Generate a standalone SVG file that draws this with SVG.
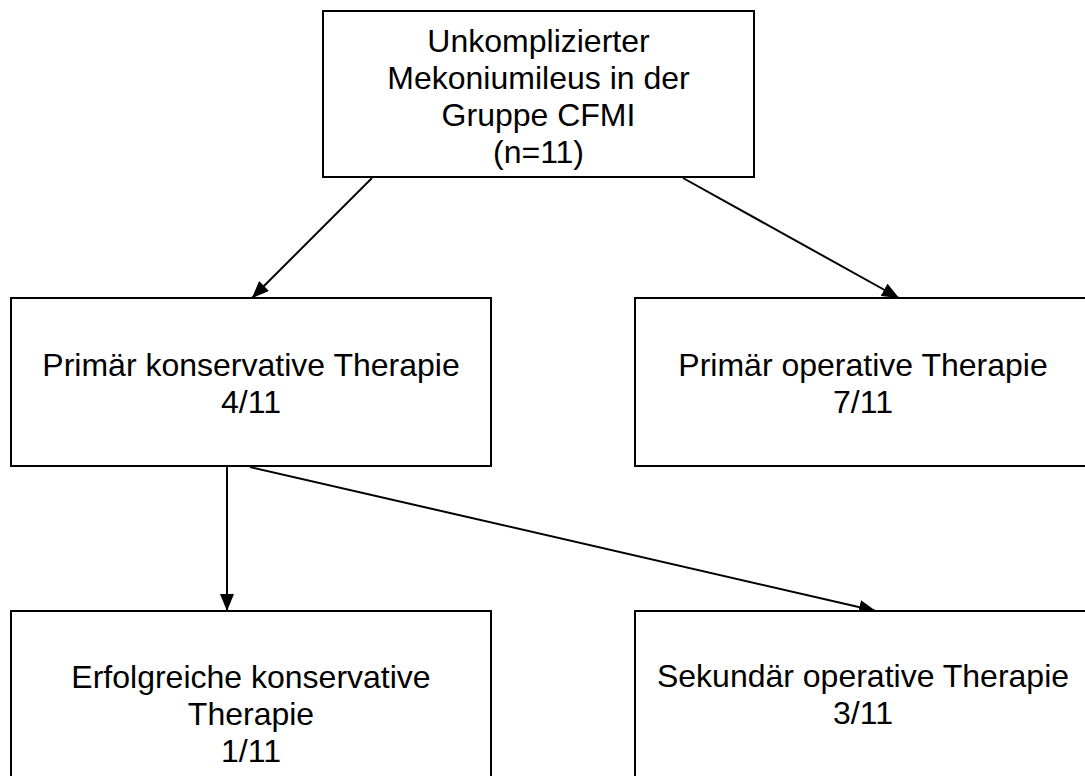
<svg xmlns="http://www.w3.org/2000/svg" width="1085" height="776" viewBox="0 0 1085 776">
<style>
.box{fill:#fff;stroke:#000;stroke-width:2}
.t{font-family:"Liberation Sans",Arial,sans-serif;font-size:32px;fill:#000;text-anchor:middle}
.c{stroke:#000;stroke-width:2;fill:none;marker-end:url(#ah)}
</style>
<defs>
<marker id="ah" viewBox="0 0 17 14" refX="17" refY="7" markerWidth="17" markerHeight="14" markerUnits="userSpaceOnUse" orient="auto">
<path d="M0,0 L17,7 L0,14 Z" fill="#000"/>
</marker>
</defs>
<rect width="1085" height="776" fill="#fff"/>
<g id="connectors">
<line class="c" x1="372" y1="178" x2="252" y2="298"/>
<line class="c" x1="683" y1="178" x2="899" y2="298"/>
<line class="c" x1="227" y1="467" x2="227" y2="611"/>
<line class="c" x1="250" y1="467" x2="876" y2="611"/>
</g>
<g id="n1">
<rect class="box" x="323" y="11" width="431" height="166"/>
<text class="t" x="538.5" y="52">Unkomplizierter</text>
<text class="t" x="538.5" y="89">Mekoniumileus in der</text>
<text class="t" x="538.5" y="126">Gruppe CFMI</text>
<text class="t" x="538.5" y="163">(n=11)</text>
</g>
<g id="n2">
<rect class="box" x="11" y="298" width="480" height="168"/>
<text class="t" x="251" y="376">Primär konservative Therapie</text>
<text class="t" x="251" y="413">4/11</text>
</g>
<g id="n3">
<rect class="box" x="635" y="298" width="456" height="168"/>
<text class="t" x="863" y="376">Primär operative Therapie</text>
<text class="t" x="863" y="413">7/11</text>
</g>
<g id="n4">
<rect class="box" x="11" y="611" width="480" height="180"/>
<text class="t" x="251" y="688">Erfolgreiche konservative</text>
<text class="t" x="251" y="725">Therapie</text>
<text class="t" x="251" y="762">1/11</text>
</g>
<g id="n5">
<rect class="box" x="635" y="611" width="456" height="180"/>
<text class="t" x="863" y="687">Sekundär operative Therapie</text>
<text class="t" x="863" y="724">3/11</text>
</g>
</svg>
